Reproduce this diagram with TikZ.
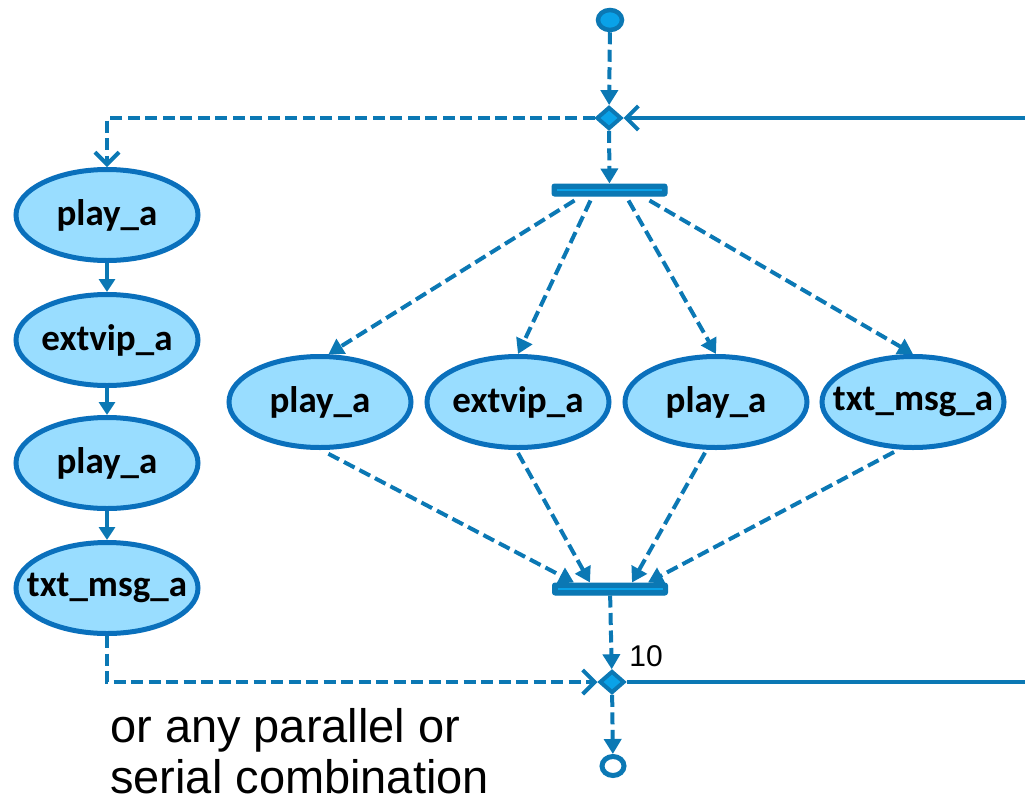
\documentclass[tikz,border=0pt]{standalone}
\usepackage{fontspec}
\setmainfont{Carlito}
\newfontfamily\arialfont{Liberation Sans}
\usetikzlibrary{arrows.meta,shapes.geometric,positioning,calc}
\definecolor{flowblue}{HTML}{0B78B4}
\definecolor{edgeblue}{HTML}{0A70BC}
\definecolor{actfill}{HTML}{99DDFF}
\definecolor{dotblue}{HTML}{0AA2E8}
\tikzset{
  action/.style={ellipse, draw=edgeblue, line width=5pt, fill=actfill,
    minimum width=182pt, minimum height=91pt, inner ysep=0pt, inner xsep=-20pt,
    font=\bfseries\fontsize{37}{40}\selectfont},
  syncbar/.style={rectangle, rounded corners=2.5pt, fill=flowblue, draw=flowblue,
    line width=1pt, minimum width=115pt, minimum height=12pt, inner sep=0pt,
    path picture={\draw[dotblue, line width=2.5pt]
      ([xshift=5pt]path picture bounding box.west) --
      ([xshift=-5pt]path picture bounding box.east);}},
  choice/.style={diamond, draw=flowblue, fill=dotblue, line width=4pt,
    minimum width=25pt, minimum height=22pt, inner sep=0pt},
  flow/.style={draw=flowblue, line width=4pt, dash pattern=on 12pt off 5.5pt,
    -{Triangle[length=15pt,width=17pt]}},
  seq/.style={draw=flowblue, line width=4pt, -{Triangle[length=13pt,width=16pt]}},
  merge/.style={draw=flowblue, line width=4pt,
    -{Straight Barb[length=12pt,width=24pt]}},
  mergedash/.style={merge, dash pattern=on 12pt off 5.5pt},
  loopline/.style={draw=flowblue, line width=4pt},
  note/.style={font=\arialfont\fontsize{47}{51}\selectfont, align=left, inner sep=0pt},
}
\begin{document}
\begin{tikzpicture}[x=1pt,y=-1pt]
  \useasboundingbox (0,0) rectangle (1025,809);
  % start / end
  \node[ellipse, draw=flowblue, fill=dotblue, line width=4.5pt,
    minimum width=24pt, minimum height=20pt, inner sep=0pt] (start) at (610,20) {};
  \node[ellipse, draw=flowblue, fill=white, line width=5pt,
    minimum width=22pt, minimum height=19pt, inner sep=0pt] (finish) at (613,766) {};
  % merge / decision
  \node[choice] (top) at (609,118) {};
  \node[choice] (bot) at (612,682) {};
  % fork / join
  \node[syncbar] (fork) at (609.5,190) {};
  \node[syncbar] (join) at (610,589) {};
  % serial
  \node[action] (s1) at (107,215) {play\_a};
  \node[action] (s2) at (107,340) {extvip\_a};
  \node[action] (s3) at (107,463) {play\_a};
  \node[action] (s4) at (107,588) {txt\_msg\_a};
  % parallel
  \node[action] (p1) at (320,402) {play\_a};
  \node[action] (p2) at (518,402) {extvip\_a};
  \node[action] (p3) at (716,402) {play\_a};
  \node[action] (p4) at (913,402) {txt\_msg\_a};
  % labels
  \node[font=\arialfont\fontsize{30}{32}\selectfont, inner sep=0pt] (cnt) at (646,656) {10};
  \node[note, anchor=north west] (note) at (110,708) {or any parallel or\\serial combination};
  % loop ends
  \coordinate (loopin) at (1025,118);
  \coordinate (loopout) at (1025,682);

  % main flow
  \draw[flow] (start) -- (top);
  \draw[flow] (top) -- (fork);
  \draw[merge] (loopin) -- (top.east);
  \draw[mergedash] (top.west) -| (s1.north);
  % serial chain
  \draw[seq] (s1) -- (s2);
  \draw[seq] (s2) -- (s3);
  \draw[seq] (s3) -- (s4);
  \draw[mergedash] (s4.south) |- (bot.west);
  % fork branches
  \draw[flow] ($(fork.south)+(-35,4)$) -- (p1.80);
  \draw[flow] ($(fork.south)+(-19,4)$) -- (p2.north);
  \draw[flow] ($(fork.south)+(19,4)$) -- (p3.north);
  \draw[flow] ($(fork.south)+(40,4)$) -- (p4.north);
  % join branches
  \draw[flow] ($(p1.-80)+(0,4)$) -- ($(join.north)+(-36,0)$);
  \draw[flow] ($(p2.south)+(0,3)$) -- ($(join.north)+(-20,0)$);
  \draw[flow] ($(p3.-103)+(0,3)$) -- ($(join.north)+(22,0)$);
  \draw[flow] ($(p4.-112)+(0,3)$) -- ($(join.north)+(38,0)$);
  % to end
  \draw[flow] (join) -- (bot);
  \draw[loopline] (bot.east) -- (loopout);
  \draw[flow] (bot) -- (finish);
\end{tikzpicture}
\end{document}
